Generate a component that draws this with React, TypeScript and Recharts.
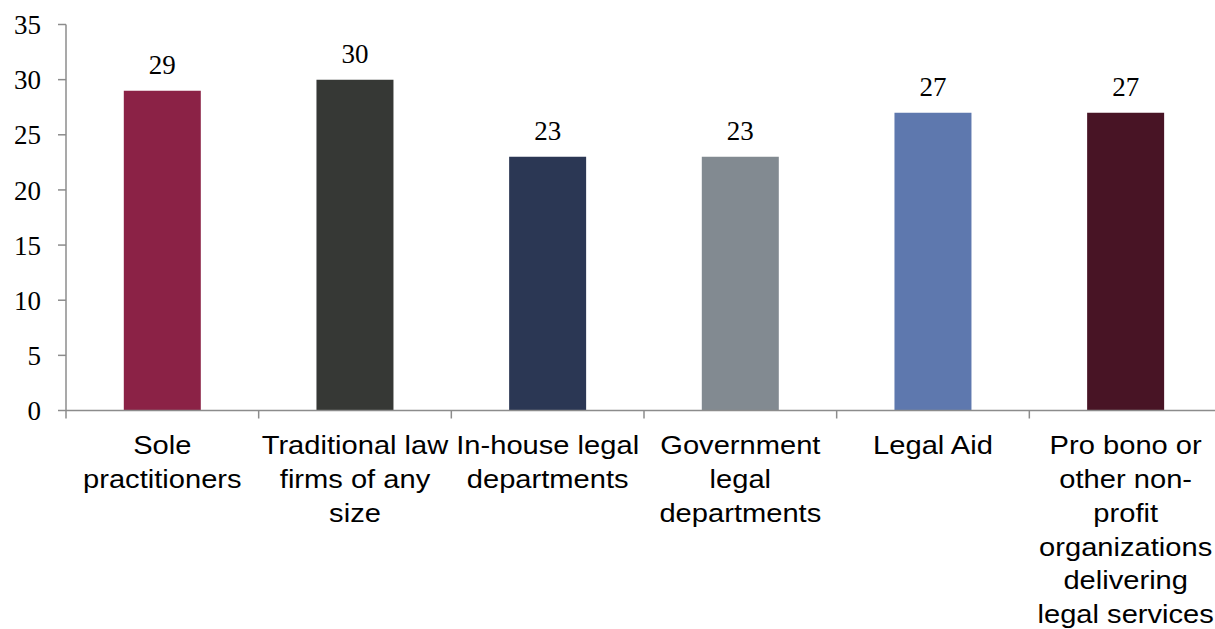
import React from "react";
import { BarChart, Bar, XAxis, YAxis, Cell, LabelList } from "recharts";

const categories = [
  "Sole practitioners",
  "Traditional law firms of any size",
  "In-house legal departments",
  "Government legal departments",
  "Legal Aid",
  "Pro bono or other non-profit organizations delivering legal services",
];

const tickLines: string[][] = [
  ["Sole", "practitioners"],
  ["Traditional law", "firms of any", "size"],
  ["In-house legal", "departments"],
  ["Government", "legal", "departments"],
  ["Legal Aid"],
  ["Pro bono or", "other non-", "profit", "organizations", "delivering", "legal services"],
];

const values = [29, 30, 23, 23, 27, 27];

const colors = ["#8B2246", "#363835", "#2B3754", "#828A91", "#5E78AE", "#481425"];

const yTicks = [0, 5, 10, 15, 20, 25, 30, 35];

const data = categories.map((name, i) => ({ name, value: values[i], idx: i }));

const CHART_W = 1240;
const CHART_H = 629;
const Y_W = 66;
const MARGIN_R = 18;
const BAND_HALF = (CHART_W - Y_W - MARGIN_R) / categories.length / 2;
const AXIS_COLOR = "#8C8C8C";

const XTick = (props: any) => {
  const { x, y, payload, index } = props;
  const half = payload && payload.offset ? payload.offset : BAND_HALF;
  const lines = tickLines[index] || [String(payload.value)];
  return (
    <g>
      <line x1={x - half} x2={x - half} y1={y} y2={y + 8} stroke={AXIS_COLOR} strokeWidth={1.5} />
      {index === categories.length - 1 && (
        <line x1={x + half} x2={x + half} y1={y} y2={y + 8} stroke={AXIS_COLOR} strokeWidth={1.5} />
      )}
      <g transform={`translate(${x},${y}) scale(1.12,1)`}>
        {lines.map((ln, i) => (
          <text
            key={i}
            x={0}
            y={44 + i * 33.7}
            textAnchor="middle"
            fontFamily="'Liberation Sans', Arial, sans-serif"
            fontSize={26}
            fill="#000"
          >
            {ln}
          </text>
        ))}
      </g>
    </g>
  );
};

export default function App() {
  return (
    <div
      style={{
        position: "fixed",
        left: 0,
        top: 0,
        width: 1215,
        height: 629,
        overflow: "hidden",
        background: "#fff",
      }}
    >
      <BarChart
        width={CHART_W}
        height={CHART_H}
        data={data}
        margin={{ top: 24.5, right: MARGIN_R, bottom: 0, left: 0 }}
        barCategoryGap="30%"
      >
        <XAxis
          dataKey="name"
          height={218.5}
          tickLine={false}
          tickSize={0}
          tickMargin={0}
          axisLine={{ stroke: AXIS_COLOR, strokeWidth: 1.5 }}
          tick={<XTick />}
          interval={0}
        />
        <YAxis
          width={Y_W}
          domain={[0, 35]}
          ticks={yTicks}
          interval={0}
          tickSize={8}
          tickMargin={17}
          axisLine={{ stroke: AXIS_COLOR, strokeWidth: 1.5 }}
          tickLine={{ stroke: AXIS_COLOR, strokeWidth: 1.5 }}
          tick={{ fontFamily: "'Liberation Serif', 'Times New Roman', serif", fontSize: 27, fill: "#000" }}
        />
        <Bar dataKey="value" isAnimationActive={false}>
          {data.map((d, i) => (
            <Cell key={i} fill={colors[i]} />
          ))}
          <LabelList
            dataKey="value"
            position="top"
            offset={17}
            fontFamily="'Liberation Serif', 'Times New Roman', serif"
            fontSize={27}
            fill="#000"
          />
        </Bar>
      </BarChart>
    </div>
  );
}
